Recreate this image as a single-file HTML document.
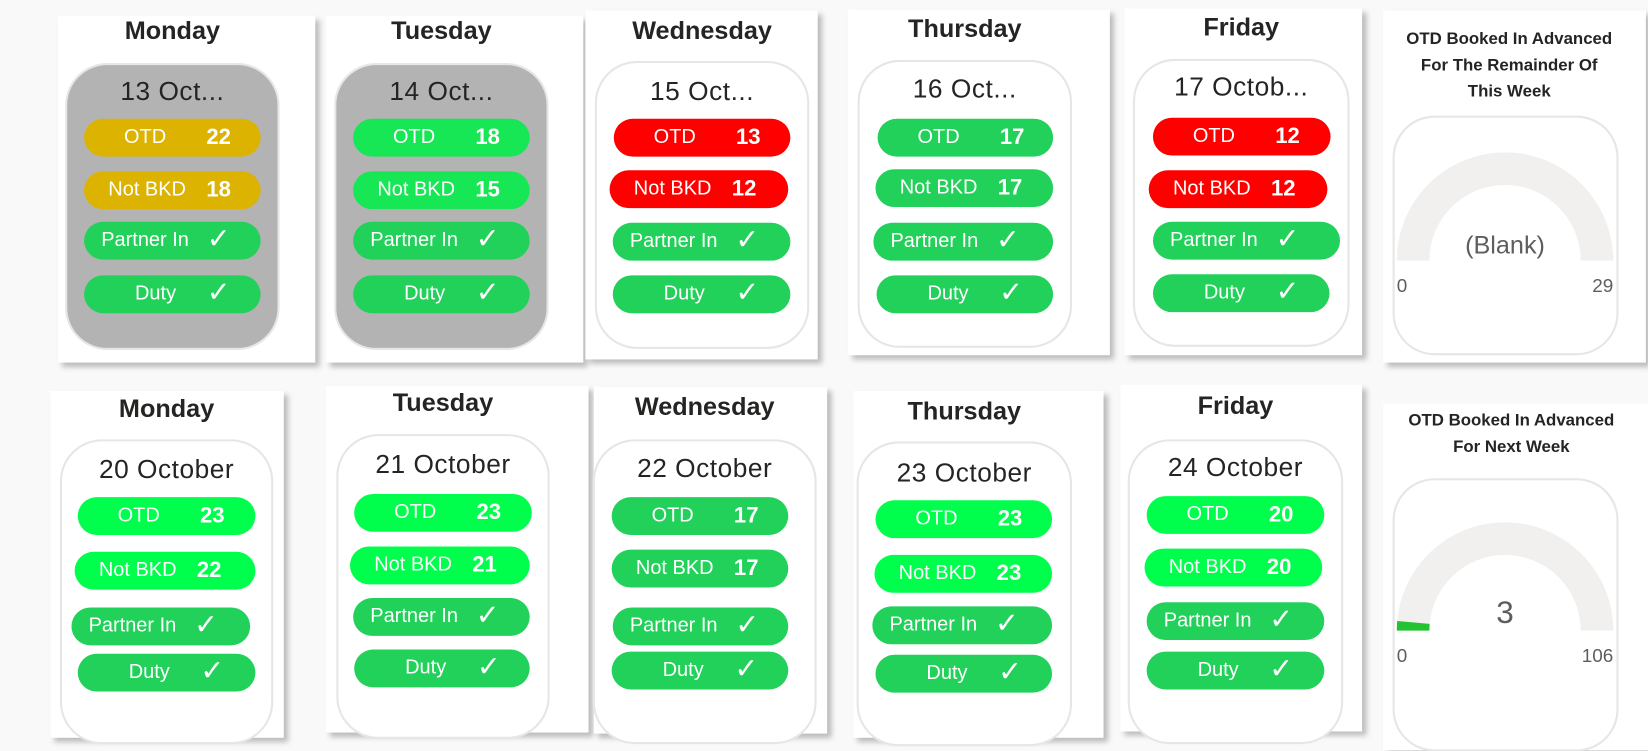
<!DOCTYPE html>
<html><head><meta charset="utf-8">
<style>
html,body{margin:0;padding:0;background:#f9f9f9;overflow:hidden;}
#stage{position:absolute;left:0;top:0;width:1568px;height:687px;transform:scale(1.051);transform-origin:0 0;font-family:"Liberation Sans","DejaVu Sans",sans-serif;}
.panel{position:absolute;background:#fff;box-shadow:4px 4px 5px rgba(0,0,0,0.25);}
.title{position:absolute;left:0;right:0;text-align:center;font-weight:bold;font-size:24px;color:#252423;}
.box{position:absolute;border:2px solid #e6e6e6;border-radius:40px;box-sizing:border-box;}
.date{position:absolute;left:0;right:0;text-align:center;font-size:25px;color:#252423;letter-spacing:0.5px;}
.pill{position:absolute;height:36px;border-radius:18px;color:#fff;}
.pill .lbl{position:absolute;top:0;line-height:36px;font-size:19px;transform:translateX(-50%);white-space:nowrap;}
.pill .val{position:absolute;top:0;line-height:36px;font-size:21px;font-weight:bold;transform:translateX(-50%);}
.gtitle{position:absolute;left:0;right:0;text-align:center;font-weight:bold;font-size:16px;line-height:25px;color:#252423;}
</style></head>
<body>
<div id="stage"></div>
<script>
// data
const days=["Monday","Tuesday","Wednesday","Thursday","Friday","Monday","Tuesday","Wednesday","Thursday","Friday"];
const dates=["13 Oct...","14 Oct...","15 Oct...","16 Oct...","17 Octob...","20 October","21 October","22 October","23 October","24 October"];
const otd=[22,18,13,17,12,23,23,17,23,20];
const notBkd=[18,15,12,17,12,22,21,17,23,20];
const partnerIn=["✓","✓","✓","✓","✓","✓","✓","✓","✓","✓"];
const duty=["✓","✓","✓","✓","✓","✓","✓","✓","✓","✓"];
const gaugeTitles=[["OTD Booked In Advanced","For The Remainder Of","This Week"],["OTD Booked In Advanced","For Next Week"]];
const gaugeValues=[null,3];
const gaugeMax=[29,106];

const Y="#dbb300",G1="#17e655",GD="#22d15a",R="#ff0000",GB="#00ff4c";
const otdCol=[Y,G1,R,GD,R,GB,GB,GD,GB,GB];
const bkdCol=[Y,G1,R,GD,R,GB,GB,GD,GB,GB];
const L=[
 [[55,15,245,330],30,[62,60,204,273],88,[[80,113,168],[80,163,168],[80,211,168],[80,262,168]]],
 [[310,15,245,330],30,[318,60,204,273],88,[[336,113,168],[336,163,168],[336,211,168],[336,262,168]]],
 [[557,10,221,332],30,[566,58,204,274],88,[[584,113,168],[580,162,170],[583,212,169],[583,262,169]]],
 [[807,9,249,329],28,[816,57,204,274],86,[[835,113,167],[833,161,169],[831,212,171],[834,262,168]]],
 [[1070,8,226,330],27,[1078,56,206,274],84,[[1097,112,169],[1093,162,170],[1097,211,178],[1097,261,168]]],
 [[48,372,222,330],390,[57,418,203,290],448,[[74,473,169],[71,525,172],[68,578,170],[74,622,169]]],
 [[310,367,250,330],384,[320,413,203,290],443,[[337,470,169],[333,520,171],[336,569,168],[337,618,167]]],
 [[565,368,222,330],388,[564,418,213,290],447,[[582,473,168],[582,523,168],[583,578,167],[582,620,168]]],
 [[812,372,238,330],392,[815,420,205,290],451,[[833,476,168],[832,528,169],[830,577,171],[833,623,168]]],
 [[1066,366,230,330],387,[1073,418,205,290],446,[[1091,472,169],[1089,522,169],[1091,573,169],[1091,620,169]]]
];
const stage=document.getElementById('stage');
function mk(cls,parent){const d=document.createElement('div');d.className=cls;parent.appendChild(d);return d;}
function pos(el,x,y,w,h){el.style.left=x+'px';el.style.top=y+'px';if(w!=null)el.style.width=w+'px';if(h!=null)el.style.height=h+'px';}

for(let i=0;i<days.length;i++){
  const [p,ty,b,dy,pills]=L[i];
  const panel=mk('panel',stage);
  
  
  pos(panel,p[0],p[1],p[2],p[3]);
  const box=mk('box',stage);
  
  
  pos(box,b[0],b[1],b[2],b[3]);
  box.style.background=i<2?'#b3b3b3':'#fff';
  const t=mk('title',stage);
  
  
  t.textContent=days[i];
  t.style.right='auto';pos(t,b[0],ty-14,b[2]);
  const d=mk('date',stage);
  
  
  d.textContent=dates[i];
  d.style.right='auto';pos(d,b[0],dy-15,b[2]);
  const rows=[["OTD",otd[i],otdCol[i],58],["Not BKD",notBkd[i],bkdCol[i],60],["Partner In",partnerIn[i],GD,58],["Duty",duty[i],GD,68]];
  rows.forEach((r,k)=>{
    const pl=mk('pill',stage);
    
    
    pos(pl,pills[k][0],pills[k][1],pills[k][2]);
    pl.style.background=r[2];
    const lb=mk('lbl',pl);lb.textContent=r[0];lb.style.left=r[3]+'px';
    
    
    const v=mk('val',pl);v.textContent=r[1];v.style.left='128px';
    
    
    if(typeof r[1]==='string'){v.style.fontSize='27px';v.style.lineHeight='32px';}
  });
}

const GL=[[[1316,10,250,335],37,[1325,110,215,228],[1432,248]],[[1316,384,254,330],400,[1325,455,215,260],[1432,600]]];
for(let g=0;g<2;g++){
  const [p,ty,b,c]=GL[g];
  const panel=mk('panel',stage);
  
  
  pos(panel,p[0],p[1],p[2],p[3]);
  const t=mk('gtitle',stage);
  
  
  t.innerHTML=gaugeTitles[g].join('<br>');
  t.style.right='auto';pos(t,p[0]-5,ty-12,p[2]);
  const box=mk('box',stage);
  
  
  pos(box,b[0],b[1],b[2],b[3]);
  const ro=103,ri=72,cx=c[0]-b[0],cy=c[1]-b[1];
  const ns='http://www.w3.org/2000/svg';
  const svg=document.createElementNS(ns,'svg');
  svg.setAttribute('width',b[2]);svg.setAttribute('height',b[3]);
  svg.style.position='absolute';svg.style.left='-2px';svg.style.top='-2px';
  box.appendChild(svg);
  function arc(f0,f1){const a0=Math.PI*(1-f0),a1=Math.PI*(1-f1);
    const P=(r,a)=>[(cx+r*Math.cos(a)).toFixed(2),(cy-r*Math.sin(a)).toFixed(2)];
    const A=P(ro,a0),B=P(ro,a1),C=P(ri,a1),D=P(ri,a0);
    return `M${A}A${ro},${ro} 0 0 1 ${B}L${C}A${ri},${ri} 0 0 0 ${D}Z`;}
  const bg=document.createElementNS(ns,'path');bg.setAttribute('d',arc(0,1));bg.setAttribute('fill','#f1f0ef');
  
  
  svg.appendChild(bg);
  if(gaugeValues[g]!=null){
    const fg=document.createElementNS(ns,'path');fg.setAttribute('d',arc(0,gaugeValues[g]/gaugeMax[g]));fg.setAttribute('fill','#22c232');
    
    
    svg.appendChild(fg);
  }
  const mkT=(txt,x,y,size,anchor,name)=>{const e=document.createElementNS(ns,'text');e.textContent=txt;e.setAttribute('x',x);e.setAttribute('y',y);e.setAttribute('font-size',size);e.setAttribute('fill','#605e5c');e.setAttribute('text-anchor',anchor);e.setAttribute('font-family','Liberation Sans, sans-serif');
    
    
    svg.appendChild(e);};
  mkT(gaugeValues[g]==null?'(Blank)':String(gaugeValues[g]),cx,cy-7,gaugeValues[g]==null?24:30,'middle','gauge-value');
  mkT('0',cx-ro,cy+30,18,'start','gauge-min');
  mkT(String(gaugeMax[g]),cx+ro,cy+30,18,'end','gauge-max');
}
</script>
</body></html>
